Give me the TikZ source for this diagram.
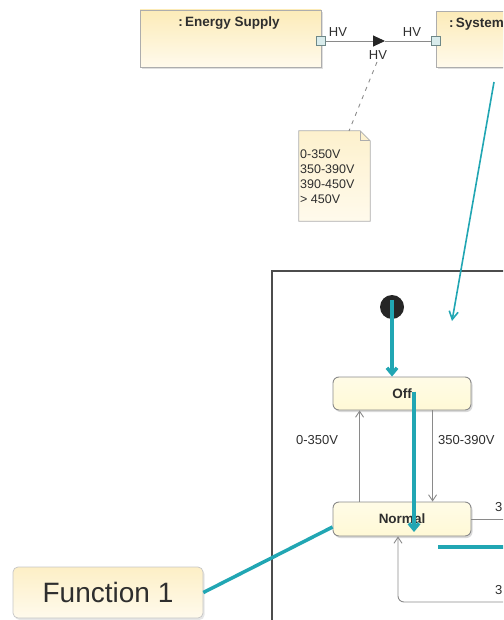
\documentclass[tikz,border=0pt]{standalone}
\usepackage{fontspec}
\setmainfont{Liberation Sans}
\usetikzlibrary{arrows.meta,shadows,calc}
\definecolor{tealA}{HTML}{21A6B3}
\definecolor{boxTop}{HTML}{FCEBB8}
\definecolor{boxBot}{HTML}{FFFAEC}
\definecolor{stateFill}{HTML}{FFF9D6}
\definecolor{lineGray}{HTML}{8A8A8A}
\definecolor{txtGray}{HTML}{2E2E2E}
\tikzset{
  partbox/.style={draw=lineGray!70, line width=0.8pt, top color=boxTop, bottom color=boxBot,
    drop shadow={opacity=0.25, shadow xshift=1.5pt, shadow yshift=-2pt}},
  parttitle/.style={font=\fontsize{13.5}{15}\selectfont\bfseries, text=txtGray, inner sep=0pt},
  portbox/.style={draw=lineGray!80!teal, fill=white!85!teal, minimum size=9pt, inner sep=0pt, line width=0.7pt},
  conn/.style={draw=lineGray, line width=0.9pt},
  lbl/.style={font=\fontsize{13}{15}\selectfont, text=txtGray, inner sep=0pt},
  notestyle/.style={draw=lineGray!70, line width=0.7pt, top color=boxTop!70, bottom color=boxBot},
  statebox/.style={draw=lineGray, line width=0.9pt, rounded corners=6pt, top color=stateFill!60, bottom color=stateFill,
    font=\fontsize{13.5}{15}\selectfont\bfseries, text=txtGray,
    drop shadow={opacity=0.3, shadow xshift=1.5pt, shadow yshift=-2pt}},
  trans/.style={draw=lineGray, line width=0.9pt, -{Straight Barb[length=6pt,width=8pt]}},
  tealthick/.style={draw=tealA, line width=3.5pt},
  tealthin/.style={draw=tealA, line width=1.6pt},
  framebox/.style={draw=black!70, line width=1.5pt, inner sep=0pt},
  funcbox/.style={draw=lineGray!50, line width=0.7pt, rounded corners=5pt, top color=boxTop!80, bottom color=boxBot,
    font=\fontsize{28}{32}\selectfont, text=txtGray,
    drop shadow={opacity=0.2, shadow xshift=1.5pt, shadow yshift=-2pt}}
}
\begin{document}
\begin{tikzpicture}[x=1pt,y=-1pt]
\useasboundingbox (0,0) rectangle (503,620);
\clip (0,0) rectangle (503,620);

% top parts
\node[partbox, minimum width=181pt, minimum height=57pt] (es) at (230.5,38.5) {};
\node[parttitle] (estitle) at (229,23) {:\,Energy Supply};
\node[partbox, anchor=north west, minimum width=120pt, minimum height=56pt] (sys) at (436,11) {};
\node[parttitle, anchor=west] (systitle) at (449,24) {:\,System};

\node[portbox] (p1) at (321,41) {};
\node[portbox] (p2) at (436,41) {};
\coordinate (mid) at (385,41);
\draw[conn, -{Triangle[length=12pt,width=11pt,color=black!85,fill=black!85]}] (p1.east) -- (mid);
\draw[conn] (mid) -- (p2.west);
\node[lbl] (hv1) at (338,32) {HV};
\node[lbl] (hv2) at (412,32) {HV};
\node[lbl] (hv3) at (378,55) {HV};

% note
\node[minimum width=71pt, minimum height=90pt, inner sep=0pt] (note) at (334.5,176) {};
\draw[notestyle] (note.north west) -- ($(note.north east)+(-10,0)$) -- ($(note.north east)+(0,10)$) -- (note.south east) -- (note.south west) -- cycle;
\draw[lineGray!70, line width=0.7pt] ($(note.north east)+(-10,0)$) -- ($(note.north east)+(-10,10)$) -- ($(note.north east)+(0,10)$);
\node[anchor=north west, align=left, inner sep=0pt, font=\fontsize{12.5}{15}\selectfont, text=txtGray] (notetext) at (300,150) {0-350V\\350-390V\\390-450V\\> 450V};
\coordinate (dstart) at (377,62);
\coordinate (dend) at (349,131);
\draw[lineGray, line width=0.9pt, dashed, dash pattern=on 4pt off 5pt] (dstart) -- (dend);

% frame
\node[framebox, anchor=north west, minimum width=300pt, minimum height=400pt] (frame) at (271,270) {};

% teal thin arrow from system
\coordinate (tstart) at (494,82);
\coordinate (tend) at (452,321);
\draw[tealthin, -{Straight Barb[length=8pt,width=9pt]}] (tstart) -- (tend);

% states
\node[circle, fill=black!85, minimum size=24pt, inner sep=0pt] (init) at (392,307) {};
\node[statebox, minimum width=138pt, minimum height=33pt] (off) at (402,393.5) {Off};
\node[statebox, minimum width=138pt, minimum height=34pt] (normal) at (402,519) {Normal};

% gray transitions
\coordinate (n1) at ($(normal.north west)+(27,0)$);
\coordinate (n2) at ($(normal.north west)+(100,0)$);
\draw[trans] (n1) -- (n1 |- off.south);
\draw[trans] (n2 |- off.south) -- (n2);
\node[lbl] (l1) at (317,440) {0-350V};
\node[lbl, anchor=west] (l2) at (438,440) {350-390V};
\coordinate (r1) at (506,519);
\draw[conn] (normal.east) -- (r1);
\node[lbl, anchor=west] (l3) at (495,507) {3};
\coordinate (r2) at (506,602);
\coordinate (bcorner) at (398,602);
\draw[trans, rounded corners=6pt] (r2) -- (bcorner) -- (bcorner |- normal.south);
\node[lbl, anchor=west] (l4) at (495,590) {3};

% teal overlays
\draw[tealthick, -{Straight Barb[length=6pt,width=10pt]}] ($(init.center)+(0,-7)$) -- (init |- off.north);
\draw[tealthick, -{Straight Barb[length=6pt,width=10pt]}] ($(off.center)+(12,-2)$) -- ($(normal.center)+(12,13)$);
\coordinate (h1) at (438,547);
\coordinate (h2) at (506,547);
\draw[tealthick] (h1) -- (h2);

% function
\node[funcbox, minimum width=190pt, minimum height=51pt] (func) at (108,592.5) {Function 1};
\draw[tealthick] (func.east) -- ($(normal.west)+(0,8)$);
\end{tikzpicture}
\end{document}
